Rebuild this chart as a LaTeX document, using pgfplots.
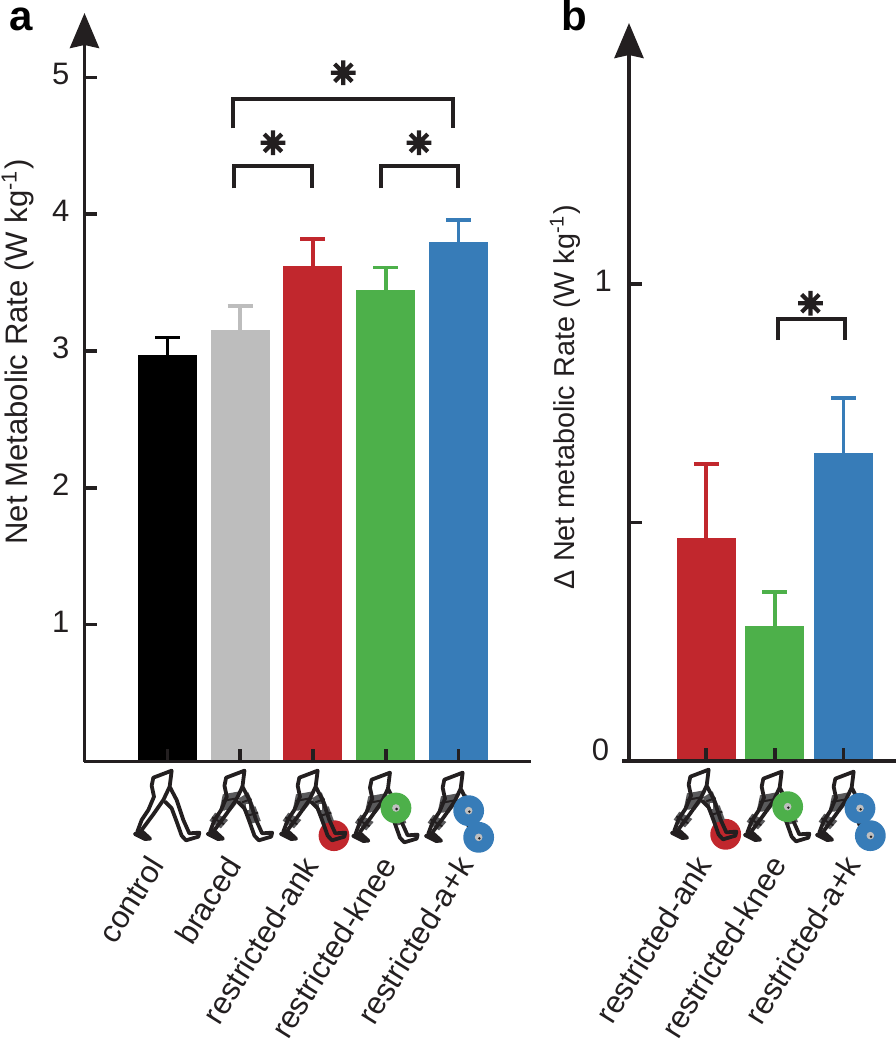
\documentclass[border=0pt]{standalone}
\usepackage{fontspec}
\setmainfont{Liberation Sans}
\usepackage{pgfplots}
\pgfplotsset{compat=1.18}
\usetikzlibrary{arrows.meta}

\definecolor{ink}{HTML}{231F20}
\definecolor{cgray}{HTML}{BDBDBD}
\definecolor{cred}{HTML}{C1272D}
\definecolor{cgreen}{HTML}{4DB04A}
\definecolor{cblue}{HTML}{377CB8}
\definecolor{band}{HTML}{5A5A5C}

\pgfdeclareplotmark{star8}{%
  \pgfpathmoveto{\pgfqpoint{-\pgfplotmarksize}{0pt}}\pgfpathlineto{\pgfqpoint{\pgfplotmarksize}{0pt}}%
  \pgfpathmoveto{\pgfqpoint{0pt}{-\pgfplotmarksize}}\pgfpathlineto{\pgfqpoint{0pt}{\pgfplotmarksize}}%
  \pgfpathmoveto{\pgfpointpolar{45}{\pgfplotmarksize}}\pgfpathlineto{\pgfpointpolar{225}{\pgfplotmarksize}}%
  \pgfpathmoveto{\pgfpointpolar{135}{\pgfplotmarksize}}\pgfpathlineto{\pgfpointpolar{315}{\pgfplotmarksize}}%
  \pgfusepathqstroke}

\pgfplotsset{
  panel/.style={
    scale only axis,
    axis x line=bottom,
    axis y line=left,
    axis on top,
    clip=false,
    axis line style={ink,line width=1.9pt},
    x axis line style={-},
    y axis line style={-{Stealth[length=17.5pt,width=14.5pt,inset=1.5pt]}},
    tick align=inside,
    major tick length=6.5pt,
    tick style={ink,line width=1.8pt},
    ymin=0,
    yticklabel style={font=\fontsize{15.5}{18}\selectfont,text=ink},
    /pgf/number format/assume math mode=true,
  },
  bar/.style={ybar,bar width=29.5pt,bar shift=0pt,fill=#1,draw=none,
    error bars/.cd,y dir=plus,y explicit,
    error bar style={color=#1,line width=1.8pt},
    error mark options={rotate=90,color=#1,mark size=6.25pt,line width=1.8pt}},
  bracket/.style={sharp plot,no marks,ink,line width=2pt,line join=miter},
  star/.style={only marks,mark=star8,mark size=6.2pt,mark options={ink,line width=2.1pt}},
}

% leg icon, path coordinates are in thirds of a reference pixel
\newcommand{\legshape}{
  \draw[ink,line width=1.9pt,line join=round,line cap=round]
    (22,200)--(35,165)--(55,135)--(72,95)--(65,62)--(70,38)--(125,17)--(119,65)
    --(140,105)--(160,165)--(178,205)--(208,203)--(205,215)--(168,226)--(155,212)
    --(140,170)--(125,130)--(105,110);
  \draw[ink,line width=1.9pt,line join=round,line cap=round]
    (119,65)--(100,105)--(70,148)--(35,195);
  \draw[ink,line width=1.9pt,line join=round,line cap=round,fill=ink]
    (15,207)--(45,222)--(60,221)--(35,198)--cycle;
}
\newcommand{\bands}{
  \fill[band] (60,88)--(116,78)--(100,118)--(84,138)--(50,136)--cycle;
  \fill[band] (37,143)--(76,165)--(54,190)--(20,167)--cycle;
  \fill[band] (108,100)--(137,82)--(156,128)--(122,138)--cycle;
  \fill[band] (124,135)--(158,124)--(174,168)--(145,176)--cycle;
  \draw[ink,line width=1pt] (58,108)--(108,99) (118,112)--(146,102) (28,157)--(64,178) (134,152)--(166,143);
  \fill[white] (68,134) rectangle (78,150);
  \fill[white] (130,116) rectangle (139,134);
}
\newcommand{\disc}[3]{
  \fill[#3] (#1,#2) circle (7.7pt);
  \fill[white!75!black] (#1,#2) circle (1.9pt);
  \fill[ink] (#1+2,#2+3) circle (0.7pt);
}
\newenvironment{icon}[2]{\begin{scope}[shift={(65pt+0.5*#1 pt,138pt-0.5*#2 pt)},x=0.16667pt,y=-0.16667pt]}{\end{scope}}

\begin{document}
\begin{tikzpicture}
\path[use as bounding box] (0,0) rectangle (448pt,520.5pt);

\node[anchor=base west,font=\fontsize{21}{22}\selectfont\bfseries,inner sep=0pt] at (4.8pt,505pt) {a};
\node[anchor=base west,font=\fontsize{21}{22}\selectfont\bfseries,inner sep=0pt] at (280.5pt,505pt) {b};

\begin{axis}[panel,
  at={(42.25pt,139.75pt)},anchor=south west,
  width=223.25pt,height=374.25pt,
  xmin=-1.141,xmax=4.997,ymax=5.471,
  xtick={0,1,2,3,4},
  xticklabels={control,braced,restricted-ank,restricted-knee,restricted-a+k},
  xticklabel style={xshift={(-5.8+2.35*\ticknum)*1pt},yshift=-49pt,rotate=58,anchor=east,inner sep=0pt,
    font=\fontsize{15.6}{20}\selectfont,text=ink},
  ytick={1,2,3,4,5},
  yticklabel style={xshift=-4pt,yshift=1.5pt},
  ylabel={Net Metabolic Rate (W kg\textsuperscript{-1})},
  every axis y label/.style={at={(axis description cs:-0.15,0.547)},rotate=90,anchor=center,
    font=\fontsize{15.55}{18}\selectfont,text=ink},
]
\addplot[bar=black] coordinates {(0,2.97) +- (0,0.13)};
\addplot[bar=cgray] coordinates {(1,3.154) +- (0,0.176)};
\addplot[bar=cred] coordinates {(2,3.62) +- (0,0.20)};
\addplot[bar=cgreen] coordinates {(3,3.447) +- (0,0.163)};
\addplot[bar=cblue] coordinates {(4,3.80) +- (0,0.16)};
\addplot[bracket] coordinates {(0.904,4.627) (0.904,4.839) (3.928,4.839) (3.928,4.627)};
\addplot[bracket] coordinates {(0.918,4.19) (0.918,4.356) (1.982,4.356) (1.982,4.19)};
\addplot[bracket] coordinates {(2.931,4.19) (2.931,4.356) (3.989,4.356) (3.989,4.19)};
\addplot[star] coordinates {(2.417,5.034) (1.45,4.522) (3.457,4.522)};
\end{axis}

\begin{axis}[panel,
  at={(314.5pt,140pt)},anchor=south west,
  width=133.5pt,height=369pt,
  xmin=-1.128,xmax=2.769,ymax=1.548,
  xtick={0,1,2},
  xticklabels={restricted-ank,restricted-knee,restricted-a+k},
  xticklabel style={xshift={(-1.2+3*\ticknum)*1pt},yshift=-49pt,rotate=58,anchor=east,inner sep=0pt,
    font=\fontsize{15.6}{20}\selectfont,text=ink},
  ytick={0,0.5,1},
  yticklabels={,,1},
  yticklabel style={xshift=-5pt,yshift=1.5pt},
  ylabel={Δ Net metabolic Rate (W kg\textsuperscript{-1})},
  every axis y label/.style={at={(axis description cs:-0.24,0.493)},rotate=90,anchor=center,
    font=\fontsize{14.4}{18}\selectfont,text=ink},
]
\addplot[bar=cred] coordinates {(0,0.4675) +- (0,0.156)};
\addplot[bar=cgreen] coordinates {(1,0.283) +- (0,0.071)};
\addplot[bar=cblue] coordinates {(2,0.646) +- (0,0.115)};
\addplot[bracket] coordinates {(1.047,0.883) (1.047,0.927) (2.025,0.927) (2.025,0.883)};
\addplot[star] coordinates {(1.52,0.960)};
\addplot[sharp plot,no marks,ink,line width=1.9pt] coordinates {(-1.128,0) (-1.23,0)};
\node[anchor=center,font=\fontsize{15.5}{18}\selectfont,text=ink] at (axis cs:-1.545,0.023) {0};
\end{axis}

% icons below the first axis
\begin{icon}{0}{0}\legshape\end{icon}
\begin{icon}{72.8}{0}\bands\legshape\end{icon}
\begin{icon}{146}{0}\fill[cred] (174,212) circle (7.7pt);\bands\legshape\end{icon}
\begin{icon}{218.3}{2}\bands\legshape\disc{143}{123}{cgreen}\end{icon}
\begin{icon}{291}{2}\bands\legshape\disc{143}{131}{cblue}\disc{173}{211}{cblue}\end{icon}
% icons below the second axis
\begin{icon}{537}{-1}\fill[cred] (176,211) circle (7.7pt);\bands\legshape\end{icon}
\begin{icon}{610}{1}\bands\legshape\disc{143}{122}{cgreen}\end{icon}
\begin{icon}{682}{1}\bands\legshape\disc{144}{127}{cblue}\disc{175}{209}{cblue}\end{icon}
\end{tikzpicture}
\end{document}
